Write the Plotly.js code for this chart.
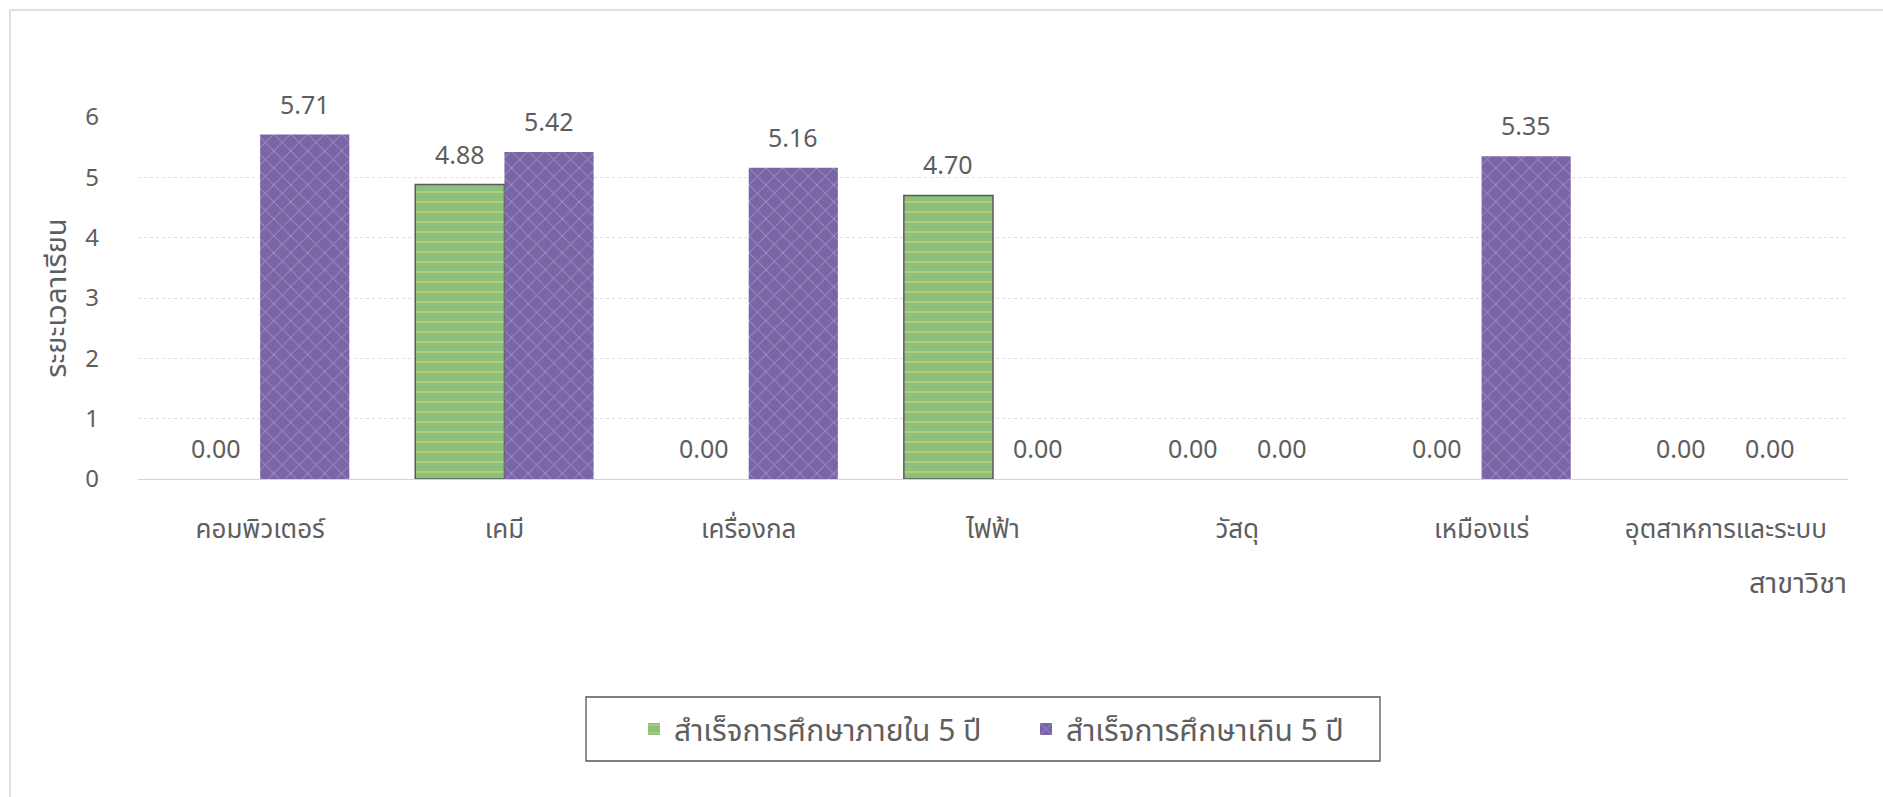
<!DOCTYPE html>
<html>
<head>
<meta charset="utf-8">
<script src="https://cdn.plot.ly/plotly-3.0.1.min.js"></script>
<style>
  html, body { margin: 0; padding: 0; background: #ffffff; }
  #chart { width: 1883px; height: 797px; }
</style>
</head>
<body>
<div id="chart"></div>
<script>
// ---- data ----
const categories = ["คอมพิวเตอร์", "เคมี", "เครื่องกล", "ไฟฟ้า", "วัสดุ", "เหมืองแร่", "อุตสาหการและระบบ"];
const seriesNames = ["สำเร็จการศึกษาภายใน 5 ปี", "สำเร็จการศึกษาเกิน 5 ปี"];
const within5 = [0.00, 4.88, 0.00, 4.70, 0.00, 0.00, 0.00];
const over5   = [5.71, 5.42, 5.16, 0.00, 0.00, 5.35, 0.00];
const yTicks = [0, 1, 2, 3, 4, 5, 6];
const yTitle = "ระยะเวลาเรียน";
const xTitle = "สาขาวิชา";

const FONT = "'Noto Sans', 'Noto Sans Thai', 'DejaVu Sans', sans-serif";
const TXT = "#5e5e5e";

const W = 1883, H = 797;
const mL = 138, mR = 35, mT = 117, mB = 318;
const plotW = W - mL - mR;
const plotH = H - mT - mB;
const catW = plotW / categories.length;
const bargap = 0.27;
const barW = catW * (1 - bargap) / 2;
const px2x = p => (p - mL) / plotW;
const px2y = p => (H - mB - p) / plotH;

const traces = [
  {
    type: "bar", name: seriesNames[0], x: categories, y: within5,
    marker: {
      color: "#8cc07c",
      line: { color: "#5a5a5a", width: within5.map(v => v > 0 ? 1.5 : 0) },
      pattern: { shape: "-", fgcolor: "#dcd672", bgcolor: "#8cc07c", size: 10, solidity: 0.2, fillmode: "overlay" }
    },
    hoverinfo: "x+y"
  },
  {
    type: "bar", name: seriesNames[1], x: categories, y: over5,
    marker: {
      color: "#7a66a6",
      line: { width: 0 },
      pattern: { shape: "x", fgcolor: "#e6c6ee", bgcolor: "#7a66a6", size: 12, solidity: 0.14, fillmode: "overlay" }
    },
    hoverinfo: "x+y"
  }
];

const annotations = [];
[within5, over5].forEach((vals, si) => {
  vals.forEach((v, i) => {
    annotations.push({
      x: categories[i], y: v, xref: "x", yref: "y",
      text: v.toFixed(2), showarrow: false,
      xshift: (si === 0 ? -1 : 1) * barW / 2,
      yshift: 31,
      font: { family: FONT, size: 25, color: TXT }
    });
  });
});
annotations.push({
  xref: "paper", yref: "paper", x: px2x(1849), y: px2y(581),
  xanchor: "right", yanchor: "middle", showarrow: false,
  text: xTitle, font: { family: FONT, size: 29, color: TXT }
});

const layout = {
  width: W, height: H,
  margin: { l: mL, r: mR, t: mT, b: mB, pad: 0 },
  paper_bgcolor: "#ffffff", plot_bgcolor: "#ffffff",
  barmode: "group", bargap: bargap, bargroupgap: 0,
  font: { family: FONT, size: 25, color: TXT },
  showlegend: true,
  legend: {
    orientation: "h", x: px2x(634), xanchor: "left", y: px2y(729), yanchor: "middle",
    borderwidth: 0, bgcolor: "rgba(0,0,0,0)",
    font: { family: FONT, size: 30, color: TXT },
    itemwidth: 30, traceorder: "normal",
    entrywidth: 347, entrywidthmode: "pixels"
  },
  xaxis: {
    type: "category", showgrid: false, zeroline: false, showline: false,
    ticks: "", ticklabelstandoff: 32,
    tickfont: { family: FONT, size: 26, color: TXT },
    automargin: false
  },
  yaxis: {
    range: [0, 6], tickvals: yTicks, ticktext: yTicks.map(String),
    showgrid: true, gridcolor: "#dedede", gridwidth: 1, griddash: "dot",
    zeroline: true, zerolinecolor: "#d4d4d4", zerolinewidth: 1,
    showline: false, ticks: "", ticklabelstandoff: 38,
    tickfont: { family: FONT, size: 24, color: TXT },
    title: { text: yTitle, standoff: 10, font: { family: FONT, size: 29, color: TXT } },
    automargin: false
  },
  annotations: annotations,
  shapes: [
    { type: "rect", xref: "paper", yref: "paper", layer: "below",
      x0: px2x(10), x1: px2x(W + 5), y0: px2y(H + 5), y1: px2y(10),
      line: { color: "#d6d6de", width: 1.5 } },
    { type: "rect", xref: "paper", yref: "paper", layer: "below",
      x0: px2x(586), x1: px2x(1380), y0: px2y(761), y1: px2y(697),
      line: { color: "#555555", width: 1.3 } }
  ]
};

Plotly.newPlot("chart", traces, layout, { displayModeBar: false, staticPlot: true });
</script>
</body>
</html>
